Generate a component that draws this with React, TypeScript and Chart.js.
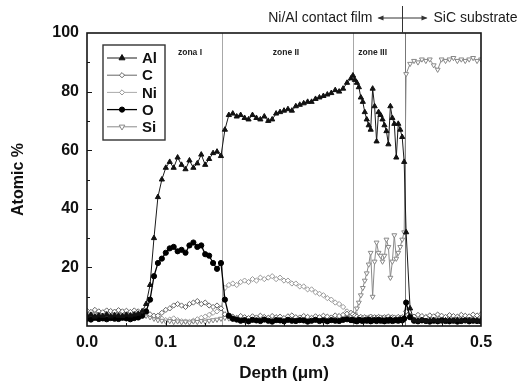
import React, { useEffect, useRef } from 'react';
import { Chart, registerables } from 'chart.js';

Chart.register(...registerables);

// Depth (µm) sample positions
const depth = [
  0, 0.005, 0.01, 0.015, 0.02, 0.025, 0.03, 0.035, 0.04, 0.045, 0.05, 0.055, 0.06, 0.065, 0.07,
  0.075, 0.08, 0.085, 0.09, 0.095, 0.1, 0.105, 0.11, 0.115, 0.12, 0.125, 0.13, 0.135, 0.14, 0.145, 0.15, 0.155, 0.16, 0.165, 0.17,
  0.175, 0.18, 0.185, 0.19, 0.195, 0.2, 0.205, 0.21, 0.215, 0.22, 0.225, 0.23, 0.235, 0.24, 0.245, 0.25, 0.255, 0.26, 0.265, 0.27,
  0.275, 0.28, 0.285, 0.29, 0.295, 0.3, 0.305, 0.31, 0.315, 0.32, 0.325, 0.33, 0.335,
  0.3375, 0.34, 0.3425, 0.345, 0.3475, 0.35, 0.3525, 0.355, 0.3575, 0.36, 0.3625, 0.365, 0.3675, 0.37, 0.3725, 0.375, 0.3775, 0.38,
  0.3825, 0.385, 0.3875, 0.39, 0.3925, 0.395, 0.3975, 0.4, 0.4025, 0.405,
  0.41, 0.415, 0.42, 0.425, 0.43, 0.435, 0.44, 0.445, 0.45, 0.455, 0.46, 0.465, 0.47, 0.475, 0.48, 0.485, 0.49, 0.495, 0.5,
];

const alPct = [
  3.5, 3.8, 3.2, 3.6, 3.4, 3.9, 3.3, 3.7, 3.5, 3.4, 3.8, 3.6, 3.9, 4.2, 5,
  7.5, 14, 30, 44, 50, 54, 56, 54, 57.5, 55, 53.5, 56.5, 54, 55.5, 58.5, 55, 57, 59, 59.5, 58,
  67, 72, 72.5, 71.5, 72, 71, 70.5, 72, 71, 70.5, 71.5, 70, 70.5, 72.5, 73, 73.5, 74, 73.5, 75, 75.5,
  76, 76.5, 76.5, 77.5, 78, 78.5, 79, 79.5, 80.5, 80, 81, 83, 84.5,
  85.5, 84, 83, 81.5, 78, 76.5, 73, 70.5, 68.5, 67, 81, 75, 63, 73, 72, 70.5, 68.5, 66.5,
  62, 75, 71, 69, 57.5, 69, 67, 64.5, 56, 32,
  6, 2, 1.8, 2, 1.7, 1.9, 2, 1.8, 1.6, 1.9, 2, 1.8, 2.1, 1.9, 1.7, 2, 1.9, 1.8, 2,
];

const cPct = [
  5.2, 4.8, 5.5, 5.0, 4.7, 5.3, 5.1, 4.9, 5.4, 5.0, 5.2, 4.8, 5.3, 5.0, 4.6,
  4.5, 4, 3.5, 3.5, 4.5, 5.5, 6, 7, 7.5, 7, 6.5, 7.5, 8, 8.5, 7.5, 8, 7, 6.5, 7, 6,
  4, 3.5, 3.2, 2.8, 3.4, 3.0, 2.7, 3.3, 2.9, 3.5, 3.1, 2.8, 3.4, 3.0, 3.2, 2.7, 3.3, 3.6, 3.0, 2.9,
  3.4, 3.1, 2.8, 3.3, 3.0, 3.5, 3.2, 2.9, 3.6, 3.4, 3.8, 4.2, 4.5,
  4, 3.5, 3.2, 2.8, 3.1, 2.7, 3.0, 2.6, 2.9, 3.2, 2.8, 3.0, 2.7, 3.1, 2.9, 2.6, 3.0, 2.8,
  3.2, 2.7, 3.0, 2.9, 2.6, 3.1, 2.8, 3.0, 2.7, 5,
  3.5, 3.2, 3.8, 3.4, 3.0, 3.6, 3.3, 3.9, 3.5, 3.1, 3.7, 3.4, 3.2, 3.8, 3.5, 3.3, 3.9, 3.6, 4.0,
];

const niPct = [
  4.4, 4.0, 4.6, 4.2, 4.5, 3.9, 4.3, 4.7, 4.1, 4.4, 4.0, 4.5, 4.2, 4.3, 4.0,
  3.8, 3.5, 3.2, 3, 2.5, 2, 2.2, 2.6, 2.0, 1.6, 1.5, 1.4, 1.8, 2.3, 2.8, 3.2, 3.8, 4.5, 5, 6,
  13, 14, 14.5, 14, 15, 15.5, 15, 16, 15.5, 16.5, 16, 16.5, 17, 16, 16.5, 15.5, 15.5, 14.5, 14.5, 13.5,
  13.5, 12.5, 12.5, 11.5, 11, 10.5, 9.5, 9, 8, 7.5, 6.5, 5, 4,
  3.5, 3, 2.6, 2.4, 2.7, 2.3, 2.5, 2.2, 2.6, 2.4, 2.3, 2.7, 2.5, 2.2, 2.4, 2.6, 2.3, 2.5,
  2.7, 2.4, 2.2, 2.6, 2.5, 2.3, 2.4, 2.6, 2.8, 3,
  3, 2.8, 3.2, 2.9, 3.1, 2.7, 3.0, 3.3, 2.9, 2.8, 3.1, 3.0, 2.7, 3.2, 2.9, 3.0, 3.3, 2.8, 3.1,
];

const oPct = [
  2.5, 2.2, 2.8, 2.4, 2.6, 2.3, 2.7, 2.5, 2.4, 2.8, 2.6, 2.3, 2.7, 2.9, 3.5,
  5, 9, 17, 21.5, 23, 25, 26.5, 27, 25.5, 26, 25, 27.5, 28.5, 27, 27.5, 24.5, 24, 21.5, 19.5, 21.5,
  9, 3.5, 2.5, 2.2, 1.8, 2.0, 1.6, 2.1, 1.9, 1.7, 2.2, 1.8, 1.5, 2.0, 1.9, 1.6, 2.1, 1.8, 1.7, 2.0,
  1.9, 1.5, 1.8, 2.1, 1.7, 1.9, 1.6, 2.0, 1.8, 1.7, 2.1, 2.3, 2.0,
  2.0, 1.8, 1.6, 2.1, 1.9, 1.7, 2.0, 1.8, 2.2, 1.6, 1.9, 2.0, 1.7, 2.1, 1.8, 1.9, 1.6, 2.0,
  1.8, 2.1, 1.7, 1.9, 2.0, 1.8, 2.2, 1.9, 2.5, 8,
  3, 1.8, 1.6, 1.9, 1.7, 1.5, 1.8, 1.6, 1.9, 1.7, 1.6, 1.8, 1.5, 1.7, 1.9, 1.6, 1.8, 1.7, 1.6,
];

const siPct = [
  4.0, 3.6, 4.2, 3.8, 4.1, 3.5, 3.9, 4.3, 3.7, 4.0, 3.6, 4.1, 3.8, 3.9, 3.7,
  3.5, 3, 2.5, 2, 1.8, 1.5, 1.7, 1.4, 1.6, 1.3, 1.5, 1.2, 1.6, 1.4, 1.7, 1.5, 1.8, 2, 2.2, 2.5,
  2.8, 2.6, 2.4, 2.7, 2.3, 2.5, 2.2, 2.6, 2.4, 2.3, 2.7, 2.5, 2.2, 2.4, 2.6, 2.3, 2.5, 2.7, 2.4, 2.2,
  2.6, 2.5, 2.3, 2.4, 2.6, 2.8, 2.5, 2.7, 2.9, 2.6, 3.0, 3.2, 3.4,
  3.5, 4, 6, 8, 10.5, 13, 15.5, 18, 21, 25, 10, 22, 28.5, 25, 24, 22, 24, 29.5,
  27, 16.5, 22, 31, 23, 25, 27, 29.5, 32, 86,
  89.5, 90.5, 90, 91, 90.5, 91, 89, 87.5, 91, 90.5, 91, 91.5, 90.5, 91, 90.5, 91, 91.5, 90.5, 91,
];

const seriesNames = ['Al', 'C', 'Ni', 'O', 'Si'];
const zoneBounds = [0.1713, 0.3376, 0.4036];
const zoneNames = ['zona I', 'zone II', 'zone III'];
const zoneLabelAt = [0.1307, 0.2525, 0.3625];
const interfaceAt = 0.4;
const leftNote = 'Ni/Al contact film';
const rightNote = 'SiC substrate';

const FONT = "'Liberation Sans', Arial, sans-serif";

type Look = { line: string; fill: string; stroke: string; shape: string; r: number; lw: number };
const looks: Look[] = [
  { line: '#1a1a1a', fill: '#111', stroke: '#111', shape: 'triangle', r: 3, lw: 1 },
  { line: '#666', fill: '#fff', stroke: '#666', shape: 'diamond', r: 2.6, lw: 1 },
  { line: '#aaa', fill: '#fff', stroke: '#999', shape: 'diamond', r: 2.6, lw: 1 },
  { line: '#000', fill: '#000', stroke: '#000', shape: 'circle', r: 2.6, lw: 1.3 },
  { line: '#8a8a8a', fill: '#fff', stroke: '#888', shape: 'down', r: 2.8, lw: 1 },
];

function drawMarker(ctx: CanvasRenderingContext2D, shape: string, cx: number, cy: number, r: number, fill: string, stroke: string) {
  ctx.beginPath();
  if (shape === 'triangle') {
    ctx.moveTo(cx, cy - r * 1.15);
    ctx.lineTo(cx + r, cy + r * 0.6);
    ctx.lineTo(cx - r, cy + r * 0.6);
    ctx.closePath();
  } else if (shape === 'down') {
    ctx.moveTo(cx, cy + r * 1.15);
    ctx.lineTo(cx + r, cy - r * 0.6);
    ctx.lineTo(cx - r, cy - r * 0.6);
    ctx.closePath();
  } else if (shape === 'diamond') {
    ctx.moveTo(cx, cy - r);
    ctx.lineTo(cx + r, cy);
    ctx.lineTo(cx, cy + r);
    ctx.lineTo(cx - r, cy);
    ctx.closePath();
  } else {
    ctx.arc(cx, cy, r, 0, Math.PI * 2);
  }
  ctx.fillStyle = fill;
  ctx.fill();
  ctx.strokeStyle = stroke;
  ctx.lineWidth = 1;
  ctx.stroke();
}

const decor = {
  id: 'decor',
  beforeDatasetsDraw(chart: any) {
    const { ctx, chartArea, scales } = chart;
    ctx.save();
    ctx.lineWidth = 1;
    zoneBounds.forEach((b, i) => {
      const px = Math.round(scales.x.getPixelForValue(b)) + 0.5;
      ctx.strokeStyle = i === 2 ? '#777' : '#a8a8a8';
      ctx.beginPath();
      ctx.moveTo(px, chartArea.top);
      ctx.lineTo(px, chartArea.bottom);
      ctx.stroke();
    });
    ctx.restore();
  },
  afterDraw(chart: any) {
    const { ctx, chartArea, scales } = chart;
    const { left, right, top, bottom } = chartArea;
    ctx.save();
    // frame
    ctx.strokeStyle = '#151515';
    ctx.lineWidth = 1.6;
    ctx.strokeRect(left, top, right - left, bottom - top);
    // inner ticks
    ctx.lineWidth = 1;
    for (let v = 10; v < 100; v += 10) {
      const py = Math.round(scales.y.getPixelForValue(v)) + 0.5;
      const len = v % 20 === 0 ? 5 : 3;
      ctx.beginPath();
      ctx.moveTo(left, py);
      ctx.lineTo(left + len, py);
      ctx.stroke();
    }
    for (let i = 1; i < 10; i++) {
      const v = i * 0.05;
      const px = Math.round(scales.x.getPixelForValue(v)) + 0.5;
      const len = i % 2 === 0 ? 5 : 3;
      ctx.beginPath();
      ctx.moveTo(px, bottom);
      ctx.lineTo(px, bottom - len);
      ctx.stroke();
    }
    // zone labels
    ctx.fillStyle = '#222';
    ctx.font = `bold 8.5px ${FONT}`;
    ctx.textAlign = 'center';
    ctx.textBaseline = 'middle';
    zoneNames.forEach((z, i) => {
      ctx.fillText(z, scales.x.getPixelForValue(zoneLabelAt[i]), top + 20);
    });
    // top annotation
    const ix = Math.round(scales.x.getPixelForValue(interfaceAt)) + 0.5;
    const ay = 18;
    ctx.strokeStyle = '#333';
    ctx.fillStyle = '#333';
    ctx.lineWidth = 1;
    ctx.beginPath();
    ctx.moveTo(ix, 6);
    ctx.lineTo(ix, top);
    ctx.moveTo(ix - 24, ay);
    ctx.lineTo(ix + 24, ay);
    ctx.stroke();
    ctx.beginPath();
    ctx.moveTo(ix - 25, ay);
    ctx.lineTo(ix - 19, ay - 2.5);
    ctx.lineTo(ix - 19, ay + 2.5);
    ctx.closePath();
    ctx.fill();
    ctx.beginPath();
    ctx.moveTo(ix + 25, ay);
    ctx.lineTo(ix + 19, ay - 2.5);
    ctx.lineTo(ix + 19, ay + 2.5);
    ctx.closePath();
    ctx.fill();
    ctx.fillStyle = '#1a1a1a';
    ctx.font = `14px ${FONT}`;
    ctx.textBaseline = 'middle';
    ctx.textAlign = 'right';
    ctx.fillText(leftNote, ix - 30, ay);
    ctx.textAlign = 'left';
    ctx.fillText(rightNote, ix + 31, ay);
    // legend
    const bx = left + 16, by = top + 12, bw = 62, bh = 95;
    ctx.fillStyle = '#fff';
    ctx.fillRect(bx, by, bw, bh);
    ctx.strokeStyle = '#333';
    ctx.lineWidth = 1.4;
    ctx.strokeRect(bx, by, bw, bh);
    ctx.font = `bold 15px ${FONT}`;
    ctx.textAlign = 'left';
    ctx.textBaseline = 'middle';
    seriesNames.forEach((name, i) => {
      const lk = looks[i];
      const ry = by + 13 + i * 17.2;
      ctx.strokeStyle = lk.line;
      ctx.lineWidth = lk.lw;
      ctx.beginPath();
      ctx.moveTo(bx + 4, ry);
      ctx.lineTo(bx + 34, ry);
      ctx.stroke();
      drawMarker(ctx, lk.shape, bx + 19, ry, lk.r, lk.fill, lk.stroke);
      ctx.fillStyle = '#111';
      ctx.fillText(name, bx + 39, ry + 1);
    });
    ctx.restore();
  },
};

const seriesValues = [alPct, cPct, niPct, oPct, siPct];
const drawOrder = [0, 2, 4, 1, 3];

export default function App() {
  const ref = useRef<HTMLCanvasElement | null>(null);
  useEffect(() => {
    if (!ref.current) return;
    const datasets = seriesNames.map((name, i) => {
      const lk = looks[i];
      const vals = seriesValues[i];
      const chartStyle = lk.shape === 'diamond' ? 'rectRot' : lk.shape === 'circle' ? 'circle' : 'triangle';
      return {
        label: name,
        data: depth.map((d, k) => ({ x: d, y: vals[k] })),
        borderColor: lk.line,
        borderWidth: lk.lw,
        pointStyle: chartStyle,
        pointRotation: lk.shape === 'down' ? 180 : 0,
        pointRadius: lk.r,
        pointBackgroundColor: lk.fill,
        pointBorderColor: lk.stroke,
        pointBorderWidth: 1,
        tension: 0,
        order: drawOrder[i],
      };
    });
    const chart = new Chart(ref.current, {
      type: 'line',
      data: { datasets },
      plugins: [decor],
      options: {
        responsive: false,
        animation: false,
        layout: { padding: { top: 33, right: 46, left: 0, bottom: 0 } },
        plugins: { legend: { display: false }, tooltip: { enabled: false } },
        scales: {
          x: {
            type: 'linear',
            min: 0,
            max: 0.5,
            afterFit(s: any) { s.height = 58; },
            grid: { display: false, drawTicks: false },
            border: { display: false },
            ticks: {
              stepSize: 0.1,
              autoSkip: false,
              maxRotation: 0,
              padding: 7,
              color: '#111',
              font: { family: FONT, size: 16, weight: 'bold' },
              callback: (v: any) => Number(v).toFixed(1),
            },
            title: {
              display: true,
              text: 'Depth (μm)',
              color: '#111',
              font: { family: FONT, size: 17, weight: 'bold' },
              padding: { top: 0, bottom: 0 },
            },
          },
          y: {
            min: 0,
            max: 100,
            afterFit(s: any) { s.width = 87; },
            grid: { display: false, drawTicks: false },
            border: { display: false },
            ticks: {
              stepSize: 20,
              padding: 8,
              color: '#111',
              font: { family: FONT, size: 16, weight: 'bold' },
              callback: (v: any) => (Number(v) === 0 ? '' : String(v)),
            },
            title: {
              display: true,
              text: 'Atomic %',
              color: '#111',
              font: { family: FONT, size: 16, weight: 'bold' },
              padding: { top: 9, bottom: 0 },
            },
          },
        },
      } as any,
    });
    return () => chart.destroy();
  }, []);
  return (
    <div style={{ position: 'fixed', left: 0, top: 0, width: 527, height: 384, background: '#fff' }}>
      <canvas ref={ref} width={527} height={384} style={{ width: 527, height: 384, display: 'block' }} />
    </div>
  );
}
